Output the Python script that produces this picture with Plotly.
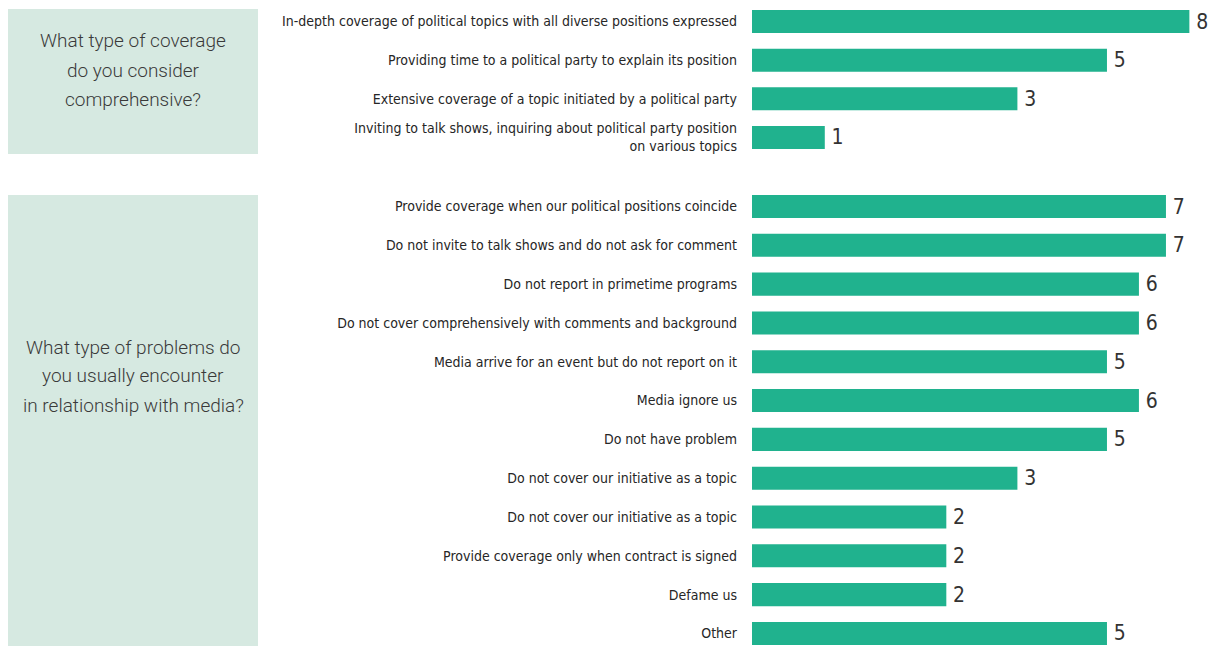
import plotly.graph_objects as go

# ---- data -------------------------------------------------------------
coverage_labels = [
    "In-depth coverage of political topics with all diverse positions expressed",
    "Providing time to a political party to explain its position",
    "Extensive coverage of a topic initiated by a political party",
    "Inviting to talk shows, inquiring about political party position<br>on various topics",
]
coverage_values = [8, 5, 3, 1]

problem_labels = [
    "Provide coverage when our political positions coincide",
    "Do not invite to talk shows and do not ask for comment",
    "Do not report in primetime programs",
    "Do not cover comprehensively with comments and background",
    "Media arrive for an event but do not report on it",
    "Media ignore us",
    "Do not have problem",
    "Do not cover our initiative as a topic",
    "Do not cover our initiative as a topic",
    "Provide coverage only when contract is signed",
    "Defame us",
    "Other",
]
problem_values = [7, 7, 6, 6, 5, 6, 5, 3, 2, 2, 2, 5]

question_lines = [
    ["What type of coverage", "do you consider", "comprehensive?"],
    ["What type of problems do", "you usually encounter", "in relationship with media?"],
]

# ---- styling ----------------------------------------------------------
W, H = 1218, 646
BAR_COLOR = "#20b28e"
BOX_COLOR = "#d6e9e1"
TEXT_COLOR = "#262626"
LABEL_FONT = "DejaVu Sans Condensed, Liberation Sans, Arial, sans-serif"
QUESTION_FONT = "Roboto, Lato, Open Sans, sans-serif"

PLOT_LEFT = 752          # pixel where bars start
X_RANGE = [-0.1803, 0.974]  # log10 range of the value axis


def py(px):
    """Convert a pixel row (from top) into paper y."""
    return 1 - px / H


def px_x(px):
    return px / W


fig = go.Figure()

groups = [
    (coverage_labels, coverage_values, "x", "y"),
    (problem_labels, problem_values, "x2", "y2"),
]
for labels, values, xa, ya in groups:
    fig.add_trace(go.Bar(
        x=values,
        y=list(range(len(values))),
        orientation="h",
        xaxis=xa,
        yaxis=ya,
        marker=dict(color=BAR_COLOR, line=dict(width=0)),
        text=["\u2009" + str(v) for v in values],
        textposition="outside",
        constraintext="none",
        textfont=dict(family=LABEL_FONT, size=21, color="#333333"),
        hoverinfo="skip",
        showlegend=False,
    ))

x_common = dict(
    type="log",
    range=X_RANGE,
    domain=[px_x(PLOT_LEFT), 1],
    visible=False,
    showgrid=False,
    zeroline=False,
    fixedrange=True,
)


def y_axis(labels, rng, top_px, bottom_px):
    return dict(
        tickmode="array",
        tickvals=list(range(len(labels))),
        ticktext=labels,
        range=rng,
        domain=[py(bottom_px), py(top_px)],
        showgrid=False,
        zeroline=False,
        showline=False,
        ticks="",
        ticklabelstandoff=14,
        automargin=False,
        tickfont=dict(family=LABEL_FONT, size=14, color=TEXT_COLOR),
        fixedrange=True,
    )


layout = dict(
    width=W,
    height=H,
    margin=dict(l=0, r=0, t=0, b=0),
    template="none",
    paper_bgcolor="white",
    plot_bgcolor="rgba(0,0,0,0)",
    bargap=0.406,
    xaxis=dict(x_common, anchor="y"),
    xaxis2=dict(x_common, anchor="y2"),
    yaxis=y_axis(coverage_labels, [3.5, -0.5], 2.2, 156.8),
    yaxis2=y_axis(problem_labels, [11.3, -0.4], 191.0, 645.1),
)
fig.update_layout(**layout)

# question panels
boxes = [(9, 154), (195, 646)]
first_line_px = [40, 346]
LINE_STEP = 29
for (top, bottom), lines, first in zip(boxes, question_lines, first_line_px):
    fig.add_shape(
        type="rect", xref="paper", yref="paper",
        x0=px_x(8), x1=px_x(258), y0=py(bottom), y1=py(top),
        fillcolor=BOX_COLOR, line=dict(width=0), layer="below",
    )
    for i, line in enumerate(lines):
        fig.add_annotation(
            xref="paper", yref="paper",
            x=px_x(133), y=py(first + i * LINE_STEP + 1),
            xanchor="center", yanchor="middle",
            text=line, showarrow=False,
            font=dict(family=QUESTION_FONT, size=19, color="#3a3a3a", weight=300),
        )

fig.write_html("out.html")
